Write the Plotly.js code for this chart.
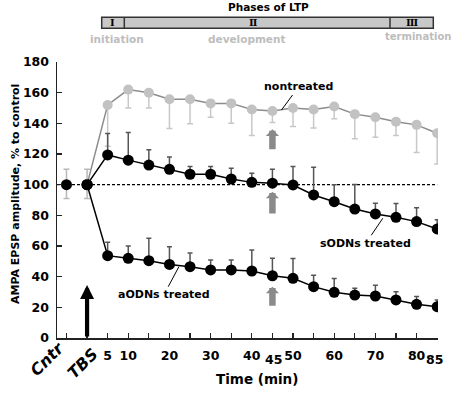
<!DOCTYPE html>
<html>
<head>
<meta charset="utf-8">
<script src="https://cdn.plot.ly/plotly-3.0.1.min.js"></script>
<style>html,body{margin:0;padding:0;background:#fff;}#chart{width:454px;height:393px;}</style>
</head>
<body>
<div id="chart"></div>
<script>
// ---- data ----
var baselineTimes = [-5, 0];
var baselineValues = [100, 100];
var baselineErrUp = [10, 10];
var baselineErrDown = [9, 9];

var timeMin = [0, 5, 10, 15, 20, 25, 30, 35, 40, 45, 50, 55, 60, 65, 70, 75, 80, 85];
var nontreated = [100, 152, 162, 160, 155.7, 155.7, 153, 153, 149, 148, 150, 149, 151, 146, 144, 141, 139, 133.5];
var nontreatedErrDown = [0, 27, 12, 10, 19, 16, 9, 13, 17, 7.5, 12, 12, 8, 16, 13, 9, 18, 20];
var sODN = [100, 119.4, 116, 112.8, 110, 106.8, 106.8, 103.7, 101.5, 101, 99.8, 93.3, 88.9, 84.1, 80.9, 78.7, 75.9, 71.1];
var sODNErrUp = [0, 14, 18, 10, 8, 5, 5, 7, 6, 9, 12, 18, 11, 16, 7, 9, 9, 6];
var aODN = [100, 53.7, 52, 50.4, 48, 46.5, 44.4, 44.4, 43.7, 40.6, 38.9, 33.5, 29.8, 28, 27.4, 24.8, 22, 20.4];
var aODNErrUp = [0, 8.7, 8, 14.6, 11.5, 9, 6.5, 6.5, 13.7, 11.4, 13, 7.5, 9, 4.4, 7, 5.4, 5, 4.4];

var controlLevel = 100;
var xTickVals = [-5, 0, 5, 10, 15, 20, 25, 30, 35, 40, 45, 50, 55, 60, 65, 70, 75, 80, 85];
var xTickText = ['', '', '5', '10', '', '20', '', '30', '', '40', '', '50', '', '60', '', '70', '', '80', ''];
var lowTickVals = [45, 85];
var lowTickText = ['45', '85'];
var specialTickVals = [-5, 0];
var specialTickText = ['Cntr', 'TBS'];
var yTickVals = [0, 20, 40, 60, 80, 100, 120, 140, 160, 180];

var tbsArrow = {x: 0, tip: 34.6, tail: 0};
var grayArrowX = 45;
var grayArrowTips = [136.1, 95.4, 33.5];
var grayArrowTails = [122.2, 80.2, 20.0];

var phaseNumerals = ['\u2160', '\u2161', '\u2162'];
var phaseNames = ['initiation', 'development', 'termination'];

// ---- layout helpers (pixel -> paper) ----
var L = 57, R = 16, T = 62, B = 55, W = 454, H = 393;
var pw = W - L - R, ph = H - T - B;
function px(x) { return (x - L) / pw; }
function py(y) { return (H - B - y) / ph; }

var FONT = 'DejaVu Sans, Verdana, sans-serif';
var xRange = [-7.3, 85.2];

var traces = [
  {
    x: timeMin, y: nontreated, type: 'scatter', mode: 'lines+markers',
    line: {color: '#8c8c8c', width: 1.5},
    marker: {color: '#c2c2c2', size: 10},
    error_y: {type: 'data', symmetric: false, array: timeMin.map(function(){return 0;}), arrayminus: nontreatedErrDown,
              color: '#c8c8c8', thickness: 1.5, width: 3},
    hoverinfo: 'skip', showlegend: false
  },
  {
    x: timeMin, y: sODN, type: 'scatter', mode: 'lines+markers',
    line: {color: '#000', width: 1.5},
    marker: {color: '#000', size: 11},
    error_y: {type: 'data', symmetric: false, array: sODNErrUp, arrayminus: timeMin.map(function(){return 0;}),
              color: '#555', thickness: 1.5, width: 2.5},
    hoverinfo: 'skip', showlegend: false
  },
  {
    x: timeMin, y: aODN, type: 'scatter', mode: 'lines+markers',
    line: {color: '#000', width: 1.5},
    marker: {color: '#000', size: 11},
    error_y: {type: 'data', symmetric: false, array: aODNErrUp, arrayminus: timeMin.map(function(){return 0;}),
              color: '#555', thickness: 1.5, width: 2.5},
    hoverinfo: 'skip', showlegend: false
  },
  {
    x: baselineTimes, y: baselineValues, type: 'scatter', mode: 'markers',
    marker: {color: '#000', size: 11},
    error_y: {type: 'data', symmetric: false, array: baselineErrUp, arrayminus: baselineErrDown,
              color: '#b8b8b8', thickness: 1.5, width: 3},
    hoverinfo: 'skip', showlegend: false
  }
];

function txt(opts) {
  opts.showarrow = false;
  if (!opts.xanchor) opts.xanchor = 'center';
  if (!opts.yanchor) opts.yanchor = 'middle';
  return opts;
}

var annotations = [];
// y-axis title
annotations.push(txt({xref: 'paper', yref: 'paper', x: px(15), y: py(194), text: 'AMPA EPSP amplitude, % to control',
  textangle: -90, font: {family: FONT, size: 11, color: '#000', weight: 'bold'}}));
// x-axis title
annotations.push(txt({xref: 'paper', yref: 'paper', x: px(257), y: py(379), text: 'Time (min)',
  font: {family: FONT, size: 13.5, color: '#000', weight: 'bold'}}));
// low tick labels
lowTickVals.forEach(function(v, i) {
  annotations.push(txt({xref: 'x', yref: 'paper', x: v, y: py(359), text: lowTickText[i],
    xshift: i === 1 ? -3 : 1, font: {family: FONT, size: 12.5, color: '#000', weight: 'bold'}}));
});
// Cntr / TBS labels (rotated, italic) - paper coordinates
var specX = [46.5, 82.5], specY = [359, 363];
specialTickText.forEach(function(t, i) {
  annotations.push({xref: 'paper', yref: 'paper', x: px(specX[i]), y: py(specY[i]), xanchor: 'center', yanchor: 'middle',
    text: t, showarrow: false, textangle: -45,
    font: {family: FONT, size: 16, color: '#000', weight: 'bold', style: 'italic'}});
});
// TBS arrow
annotations.push({xref: 'x', yref: 'y', axref: 'x', ayref: 'y', x: tbsArrow.x, y: tbsArrow.tip, ax: tbsArrow.x, ay: tbsArrow.tail,
  text: '', showarrow: true, arrowhead: 2, arrowwidth: 4.2, arrowsize: 0.667, arrowcolor: '#000', standoff: 0, startstandoff: 0});
// gray arrows
grayArrowTips.forEach(function(t, i) {
  annotations.push({xref: 'x', yref: 'y', axref: 'x', ayref: 'y', x: grayArrowX, y: t, ax: grayArrowX, ay: grayArrowTails[i],
    text: '', showarrow: true, arrowhead: 1, arrowwidth: 6.5, arrowsize: 0.34, arrowcolor: '#8a8a8a', standoff: 0, startstandoff: 0});
});
// series labels with leader lines
var seriesLabels = [
  {text: 'nontreated', x: 47.2, y: 148.7, ax: 17, ay: -23},
  {text: 'sODNs treated', x: 71.8, y: 78.1, ax: -17, ay: 25},
  {text: 'aODNs treated', x: 22.3, y: 46.5, ax: -15, ay: 28}
];
seriesLabels.forEach(function(s) {
  annotations.push({xref: 'x', yref: 'y', x: s.x, y: s.y, ax: s.ax, ay: s.ay, text: s.text, showarrow: true,
    arrowhead: 0, arrowwidth: 1, arrowcolor: '#000', font: {family: FONT, size: 11, color: '#000', weight: 'bold'}});
});
// phases header
annotations.push(txt({xref: 'paper', yref: 'paper', x: px(268), y: py(7.3), text: 'Phases of LTP',
  font: {family: FONT, size: 10.5, color: '#000', weight: 'bold'}}));
var numX = [112.7, 253.3, 411.7];
phaseNumerals.forEach(function(n, i) {
  annotations.push(txt({xref: 'paper', yref: 'paper', x: px(numX[i]), y: py(22.8), text: n,
    font: {family: 'DejaVu Serif, serif', size: 10, color: '#000', weight: 'bold'}}));
});
var nameX = [117, 246.7, 383], nameY = [39.3, 39.3, 36.5], nameAnchor = ['center', 'center', 'left'];
var nameSize = [10.5, 10.5, 10];
phaseNames.forEach(function(n, i) {
  annotations.push(txt({xref: 'paper', yref: 'paper', x: px(nameX[i]), y: py(nameY[i]), xanchor: nameAnchor[i], text: n,
    font: {family: FONT, size: nameSize[i], color: '#bdbdbd', weight: 'bold'}}));
});

var shapes = [
  {type: 'line', xref: 'x', yref: 'y', x0: xRange[0], x1: 85, y0: controlLevel, y1: controlLevel,
   line: {color: '#000', width: 1.2, dash: '3px,2px'}, layer: 'below'},
  {type: 'rect', xref: 'paper', yref: 'paper', x0: px(101.7), x1: px(433.3), y0: py(28.3), y1: py(17.3),
   fillcolor: '#c8c8c8', line: {color: '#333', width: 1.5}},
  {type: 'line', xref: 'paper', yref: 'paper', x0: px(124.3), x1: px(124.3), y0: py(28.3), y1: py(17.3),
   line: {color: '#333', width: 1.5}},
  {type: 'line', xref: 'paper', yref: 'paper', x0: px(390), x1: px(390), y0: py(28.3), y1: py(17.3),
   line: {color: '#333', width: 1.5}}
];

var layout = {
  width: W, height: H,
  margin: {l: L, r: R, t: T, b: B, pad: 0},
  paper_bgcolor: '#fff', plot_bgcolor: '#fff',
  showlegend: false,
  font: {family: FONT, color: '#000'},
  xaxis: {range: xRange, tickmode: 'array', tickvals: xTickVals, ticktext: xTickText,
    ticks: 'inside', ticklen: 5, tickwidth: 1.2, tickcolor: '#222',
    showline: true, linecolor: '#222', linewidth: 1.5, showgrid: false, zeroline: false,
    ticklabelstandoff: 5,
    tickfont: {family: FONT, size: 12.5, color: '#000', weight: 'bold'}},
  yaxis: {range: [0, 180], tickmode: 'array', tickvals: yTickVals,
    ticks: 'inside', ticklen: 5, tickwidth: 1.2, tickcolor: '#222',
    showline: true, linecolor: '#222', linewidth: 1.5, showgrid: false, zeroline: false,
    ticklabelstandoff: 4,
    tickfont: {family: FONT, size: 12.5, color: '#000', weight: 'bold'}},
  annotations: annotations,
  shapes: shapes
};

Plotly.newPlot('chart', traces, layout, {staticPlot: true, displayModeBar: false});
</script>
</body>
</html>
